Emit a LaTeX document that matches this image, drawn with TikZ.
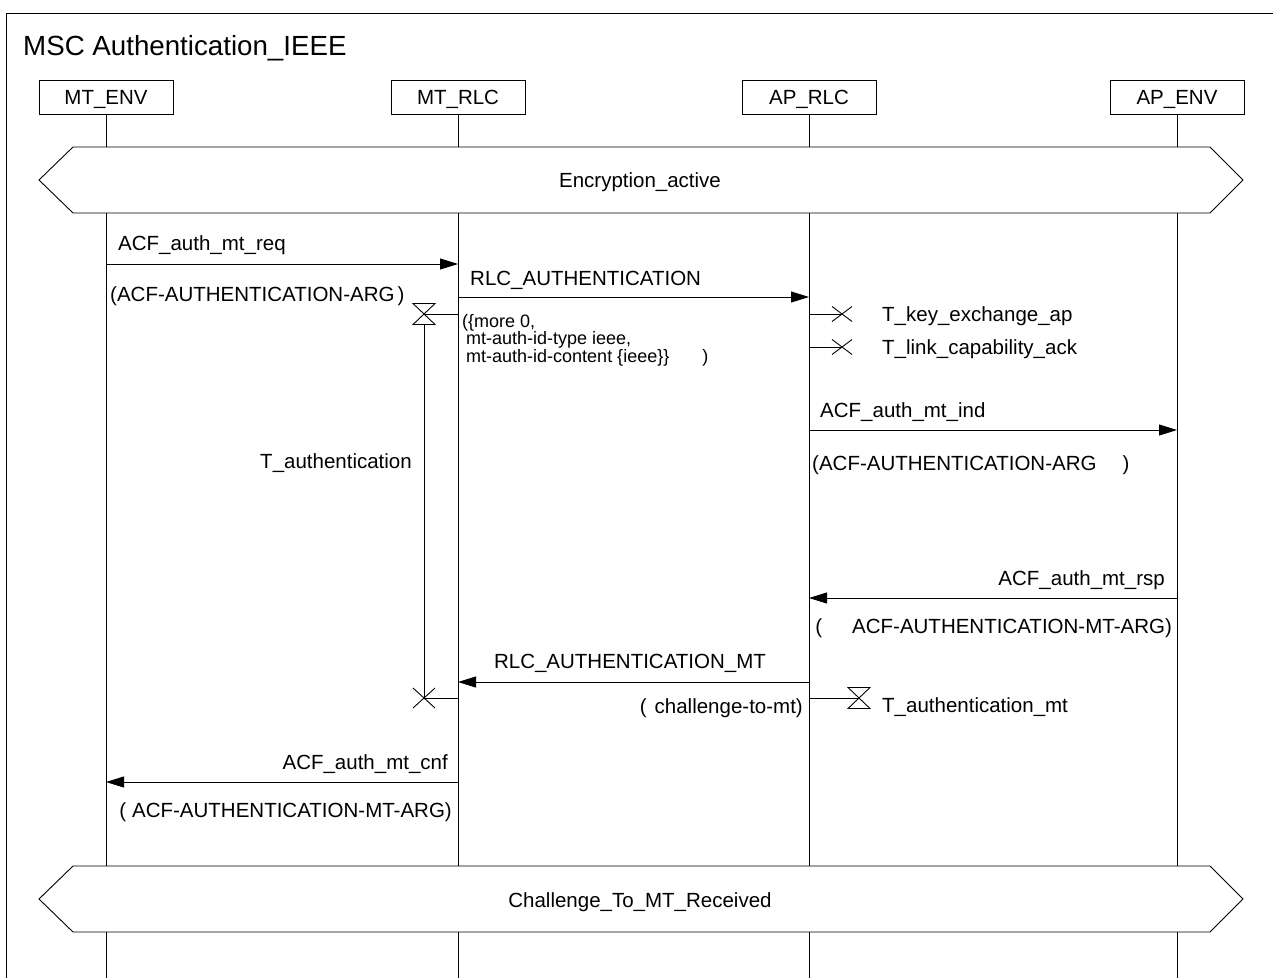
\documentclass[tikz,border=0pt]{standalone}
\usepackage{fontspec}
\setmainfont{Liberation Sans}
\usetikzlibrary{arrows.meta}
\tikzset{
  txt/.style={inner sep=0pt, font=\fontsize{20.5}{20.5}\selectfont, text height=14.7pt, text depth=0pt},
  small/.style={txt, font=\fontsize{18}{18}\selectfont, text height=12.9pt},
  inst/.style={txt, draw, line width=0.9pt, fill=white, minimum width=134pt, minimum height=34pt},
  life/.style={line width=0.9pt},
  msg/.style={line width=0.9pt, -{Triangle[length=18pt,width=11pt]}},
  tline/.style={line width=0.9pt},
  cond/.style={line width=0.9pt, fill=white},
  timerset/.pic={\draw[line width=0.9pt] (-11,-10.5) -- (11,-10.5) -- (-11,10.5) -- (11,10.5) -- cycle;},
  timerout/.pic={\draw[line width=0.9pt] (-11,-10) -- (11,10) (-11,10) -- (11,-10);},
  timerstop/.pic={\draw[line width=0.9pt] (-10,-7.5) -- (10,7.5) (-10,7.5) -- (10,-7.5);}
}
\begin{document}
\begin{tikzpicture}[x=1pt,y=-1pt]
\useasboundingbox (0,0) rectangle (1273,977);

% frame and title
\draw[line width=0.9pt] (6,990) -- (6,13) -- (1290,13);
\node[txt, anchor=west, font=\fontsize{27.7}{27.7}\selectfont, text height=19.8pt] (title) at (23,46) {MSC Authentication\_IEEE};

% instances
\node[inst] (mtenv) at (106,97) {MT\_ENV};
\node[inst] (mtrlc) at (458,97) {MT\_RLC};
\node[inst] (aprlc) at (809,97) {AP\_RLC};
\node[inst] (apenv) at (1177,97) {AP\_ENV};
\coordinate (mtenvEnd) at (106,990);
\coordinate (mtrlcEnd) at (458,990);
\coordinate (aprlcEnd) at (809,990);
\coordinate (apenvEnd) at (1177,990);
\draw[life] (mtenv.south) -- (mtenvEnd);
\draw[life] (mtrlc.south) -- (mtrlcEnd);
\draw[life] (aprlc.south) -- (aprlcEnd);
\draw[life] (apenv.south) -- (apenvEnd);

% condition: Encryption_active
\draw[cond] (39,180) -- (73,147) -- (1210,147) -- (1243,180) -- (1210,213) -- (73,213) -- cycle;
\node[txt] (c1) at (640,180) {Encryption\_active};

% ACF_auth_mt_req
\coordinate (m1a) at (106,264); \coordinate (m1b) at (458,264);
\draw[msg] (m1a) -- (m1b);
\node[txt, anchor=west] (m1l) at (118,243) {ACF\_auth\_mt\_req};
\node[txt, anchor=west] (m1p) at (110,294) {(ACF-AUTHENTICATION-ARG\hspace{3pt})};

% RLC_AUTHENTICATION
\coordinate (m2a) at (458,297); \coordinate (m2b) at (809,297);
\draw[msg] (m2a) -- (m2b);
\node[txt, anchor=west] (m2l) at (470,278) {RLC\_AUTHENTICATION};
\node[small, anchor=west] (m2p1) at (462,321) {(\{more 0,};
\node[small, anchor=west] (m2p2) at (466,338.5) {mt-auth-id-type ieee,};
\node[small, anchor=west] (m2p3) at (466,356) {mt-auth-id-content \{ieee\}\}\hspace{33pt})};

% timer T_authentication on MT_RLC
\coordinate (t1s) at (424,314); \coordinate (t1r) at (458,314);
\coordinate (t1o) at (424,698); \coordinate (t1q) at (458,698);
\coordinate (t1top) at (424,324.5);
\draw[tline] (t1r) -- (t1s);
\pic at (t1s) {timerset};
\draw[tline] (t1top) -- (t1o);
\draw[tline] (t1q) -- (t1o);
\pic at (t1o) {timerout};
\node[txt, anchor=east] (t1l) at (412,461) {T\_authentication};

% timers stopped on AP_RLC
\coordinate (t2a) at (809,314); \coordinate (t2x) at (842,314);
\draw[tline] (t2a) -- (t2x);
\pic at (t2x) {timerstop};
\node[txt, anchor=west] (t2l) at (882,314) {T\_key\_exchange\_ap};
\coordinate (t3a) at (809,347); \coordinate (t3x) at (842,347);
\draw[tline] (t3a) -- (t3x);
\pic at (t3x) {timerstop};
\node[txt, anchor=west] (t3l) at (882,347) {T\_link\_capability\_ack};

% ACF_auth_mt_ind
\coordinate (m3a) at (809,430); \coordinate (m3b) at (1177,430);
\draw[msg] (m3a) -- (m3b);
\node[txt, anchor=west] (m3l) at (820,410) {ACF\_auth\_mt\_ind};
\node[txt, anchor=west] (m3p) at (812,463) {(ACF-AUTHENTICATION-ARG\hspace{26pt})};

% ACF_auth_mt_rsp
\coordinate (m4a) at (1177,598); \coordinate (m4b) at (809,598);
\draw[msg] (m4a) -- (m4b);
\node[txt, anchor=east] (m4l) at (1165,578) {ACF\_auth\_mt\_rsp};
\node[txt, anchor=east] (m4p) at (1172,626) {(\hspace{30pt}ACF-AUTHENTICATION-MT-ARG)};

% RLC_AUTHENTICATION_MT
\coordinate (m5a) at (809,682); \coordinate (m5b) at (458,682);
\draw[msg] (m5a) -- (m5b);
\node[txt] (m5l) at (630,661) {RLC\_AUTHENTICATION\_MT};
\node[txt, anchor=east] (m5p) at (803,706) {(\hspace{8pt}challenge-to-mt)};

% timer T_authentication_mt on AP_RLC
\coordinate (t4a) at (809,698); \coordinate (t4s) at (859,698);
\draw[tline] (t4a) -- (t4s);
\pic at (t4s) {timerset};
\node[txt, anchor=west] (t4l) at (882,705) {T\_authentication\_mt};

% ACF_auth_mt_cnf
\coordinate (m6a) at (458,782); \coordinate (m6b) at (106,782);
\draw[msg] (m6a) -- (m6b);
\node[txt, anchor=east] (m6l) at (448,762) {ACF\_auth\_mt\_cnf};
\node[txt, anchor=east] (m6p) at (452,810) {(\hspace{6pt}ACF-AUTHENTICATION-MT-ARG)};

% condition: Challenge_To_MT_Received
\draw[cond] (39,899) -- (73,866) -- (1210,866) -- (1243,899) -- (1210,932) -- (73,932) -- cycle;
\node[txt] (c2) at (640,900) {Challenge\_To\_MT\_Received};
\end{tikzpicture}
\end{document}
